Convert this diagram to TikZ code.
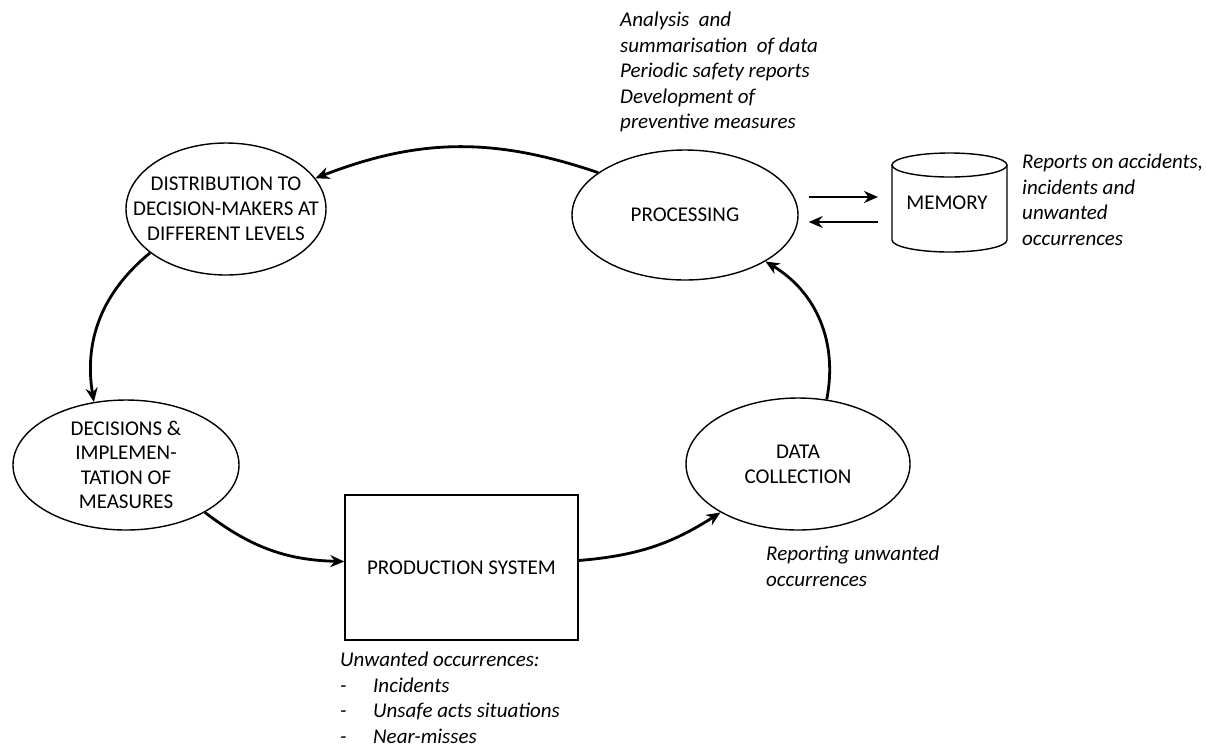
\documentclass[tikz,border=0pt]{standalone}
\usepackage{fontspec}
\setmainfont{Carlito}
\usetikzlibrary{shapes.geometric,arrows.meta,calc}
\begin{document}
\begin{tikzpicture}[x=1pt,y=1pt,
  every node/.style={font=\fontsize{21}{25}\selectfont},
  oval/.style={ellipse,draw,line width=1.4pt,inner sep=0pt,align=center},
  box/.style={rectangle,draw,line width=1.4pt,inner sep=0pt,align=center},
  note/.style={align=left,inner sep=0pt,font=\fontsize{21}{25.5}\selectfont\itshape},
  conn/.style={line width=2.8pt,-{Stealth[length=14pt,width=12pt]}}]
\useasboundingbox (0,0) rectangle (1206,-748);
\fill[white] (0,0) rectangle (1206,-748);

\node[oval,minimum width=226,minimum height=130] (proc) at (685,-215) {PROCESSING};
\node[oval,minimum width=200,minimum height=132,inner xsep=-31pt] (dist) at (226,-209) {DISTRIBUTION TO\\DECISION-MAKERS AT\\DIFFERENT LEVELS};
\node[oval,minimum width=226,minimum height=130,inner ysep=-6pt,font=\fontsize{21}{24.5}\selectfont] (dec) at (126,-465) {DECISIONS \&\\IMPLEMEN-\\TATION OF\\MEASURES};
\node[oval,minimum width=224,minimum height=132] (data) at (798,-464) {DATA\\COLLECTION};
\node[box,minimum width=233,minimum height=145] (prod) at (461.5,-567.5) {PRODUCTION SYSTEM};

% memory cylinder
\node[inner sep=0pt,minimum width=115,minimum height=99] (mem) at (947,-202.5) {MEMORY};
\draw[line width=1.4pt] (892,-165) -- (892,-240) arc[start angle=180,end angle=360,x radius=57.5,y radius=12] -- (1007,-165);
\draw[line width=1.4pt] (949.5,-165) ellipse[x radius=57.5,y radius=12];

% notes
\node[note,anchor=north west] (ntop) at (620,-12) {Analysis\ \ and\\summarisation\ \ of data\\Periodic safety reports\\Development of\\preventive measures};
\node[note,anchor=north west] (nmem) at (1022,-154) {Reports on accidents,\\incidents and\\unwanted\\occurrences};
\node[note,anchor=north west] (ndata) at (766,-546) {Reporting unwanted\\occurrences};
\node[note,anchor=north west] (nprod) at (340,-652) {Unwanted occurrences:\\\makebox[33pt][l]{-}Incidents\\\makebox[33pt][l]{-}Unsafe acts situations\\\makebox[33pt][l]{-}Near-misses};

% connectors
\draw[conn] (proc.154) to[bend right=20] (dist.19);
\draw[conn] (dist.210) to[bend right=30] (dec.117);
\draw[conn] (dec.329) to[bend right=18] ([yshift=6pt]prod.west);
\draw[conn] ([yshift=7pt]prod.east) to[bend right=14] (data.212);
\draw[conn] (data.66) to[bend right=35] (proc.330);
\draw[conn] ($(proc.east)+(10,18)$) -- ($(892,0 |- proc.east)+(-14,18)$);
\draw[conn] ($(892,0 |- proc.east)+(-14,-7)$) -- ($(proc.east)+(10,-7)$);
\end{tikzpicture}
\end{document}
